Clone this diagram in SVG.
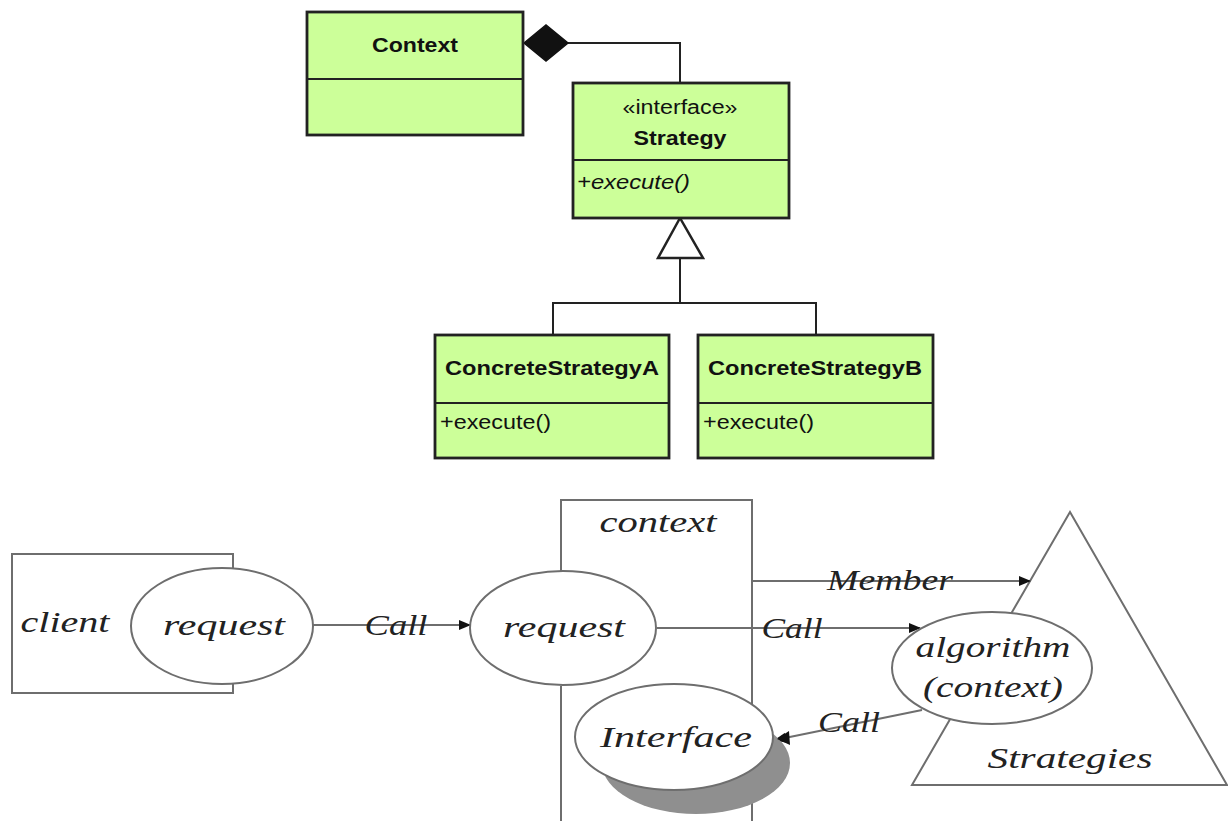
<svg xmlns="http://www.w3.org/2000/svg" width="1228" height="821" viewBox="0 0 1228 821">
  <style>
    .cls { fill: #ccff99; stroke: #222; stroke-width: 2.8; }
    .uml { stroke: #222; stroke-width: 2; fill: none; }
    .b { font-family: "Liberation Sans", Arial, sans-serif; font-weight: bold; font-size: 21px; fill: #111; }
    .r { font-family: "Liberation Sans", Arial, sans-serif; font-size: 20px; fill: #111; }
    .ri { font-family: "Liberation Sans", Arial, sans-serif; font-style: italic; font-size: 20px; fill: #111; }
    .ln { stroke: #6e6e6e; stroke-width: 2; fill: none; }
    .sh { stroke: #6e6e6e; stroke-width: 2; fill: #fff; }
    .t { font-family: "Liberation Serif", "Times New Roman", serif; font-style: italic; font-size: 30px; fill: #222; }
  </style>
  <defs>
    <marker id="arr" markerWidth="12" markerHeight="10" refX="11" refY="5" orient="auto" markerUnits="userSpaceOnUse">
      <path d="M0,0 L12,5 L0,10 Z" fill="#111"/>
    </marker>
  </defs>
  <rect width="1228" height="821" fill="#fff"/>

  <!-- class diagram -->
  <g id="uml-links">
    <path class="uml" d="M568,43 H680 V83"/>
    <polygon points="524,43 546,25 568,43 546,61" fill="#111" stroke="#111" stroke-width="1.5"/>
    <path class="uml" d="M680,258 V303 M553,335 V303 H816 V335"/>
    <polygon points="680,218 658,258 703,258" fill="#fff" stroke="#222" stroke-width="2.5"/>
  </g>

  <g id="Context">
    <rect class="cls" x="307" y="12" width="216" height="123"/>
    <line class="uml" x1="307" y1="79" x2="523" y2="79" stroke-width="2.5"/>
    <text class="b" x="415" y="52" text-anchor="middle" textLength="86" lengthAdjust="spacingAndGlyphs">Context</text>
  </g>

  <g id="Strategy">
    <rect class="cls" x="573" y="83" width="216" height="135"/>
    <line class="uml" x1="573" y1="160" x2="789" y2="160" stroke-width="2.5"/>
    <text class="r" x="680" y="114" text-anchor="middle" textLength="115" lengthAdjust="spacingAndGlyphs">«interface»</text>
    <text class="b" x="680" y="145" text-anchor="middle" textLength="93" lengthAdjust="spacingAndGlyphs">Strategy</text>
    <text class="ri" x="577" y="189" textLength="113" lengthAdjust="spacingAndGlyphs">+execute()</text>
  </g>

  <g id="ConcreteStrategyA">
    <rect class="cls" x="435" y="335" width="234" height="123"/>
    <line class="uml" x1="435" y1="403" x2="669" y2="403" stroke-width="2.5"/>
    <text class="b" x="552" y="375" text-anchor="middle" textLength="214" lengthAdjust="spacingAndGlyphs">ConcreteStrategyA</text>
    <text class="r" x="440" y="429" textLength="111" lengthAdjust="spacingAndGlyphs">+execute()</text>
  </g>

  <g id="ConcreteStrategyB">
    <rect class="cls" x="698" y="335" width="235" height="123"/>
    <line class="uml" x1="698" y1="403" x2="933" y2="403" stroke-width="2.5"/>
    <text class="b" x="815" y="375" text-anchor="middle" textLength="214" lengthAdjust="spacingAndGlyphs">ConcreteStrategyB</text>
    <text class="r" x="703" y="429" textLength="111" lengthAdjust="spacingAndGlyphs">+execute()</text>
  </g>

  <!-- collaboration sketch -->
  <g id="client">
    <path class="ln" d="M233,569 V554 H12 V693 H233 V682"/>
    <text class="t" x="65" y="632" text-anchor="middle" textLength="89" lengthAdjust="spacingAndGlyphs">client</text>
  </g>

  <g id="context">
    <path class="ln" d="M561,572 V500 H752 V821 M561,686 V821"/>
    <text class="t" x="658" y="532" text-anchor="middle" textLength="117" lengthAdjust="spacingAndGlyphs">context</text>
  </g>

  <g id="Strategies">
    <polygon class="ln" points="1070,512 912,785 1227,785" fill="#fff"/>
    <text class="t" x="1070" y="768" text-anchor="middle" textLength="165" lengthAdjust="spacingAndGlyphs">Strategies</text>
  </g>

  <g id="connectors">
    <line class="ln" x1="313" y1="625" x2="470" y2="625" marker-end="url(#arr)"/>
    <line class="ln" x1="752" y1="581" x2="1030" y2="581" marker-end="url(#arr)"/>
    <line class="ln" x1="657" y1="628" x2="920" y2="628" marker-end="url(#arr)"/>
    <line class="ln" x1="922" y1="710" x2="775" y2="740" marker-end="url(#arr)"/>
    <text class="t" x="396" y="635" text-anchor="middle" textLength="63" lengthAdjust="spacingAndGlyphs">Call</text>
    <text class="t" x="890" y="590" text-anchor="middle" textLength="126" lengthAdjust="spacingAndGlyphs">Member</text>
    <text class="t" x="792" y="638" text-anchor="middle" textLength="61" lengthAdjust="spacingAndGlyphs">Call</text>
    <text class="t" x="849" y="732" text-anchor="middle" textLength="62" lengthAdjust="spacingAndGlyphs">Call</text>
  </g>

  <g id="client-request">
    <ellipse class="sh" cx="222" cy="626" rx="91" ry="58"/>
    <text class="t" x="224" y="635" text-anchor="middle" textLength="122" lengthAdjust="spacingAndGlyphs">request</text>
  </g>

  <g id="context-request">
    <ellipse class="sh" cx="563" cy="628" rx="93" ry="57"/>
    <text class="t" x="564" y="637" text-anchor="middle" textLength="122" lengthAdjust="spacingAndGlyphs">request</text>
  </g>

  <g id="algorithm">
    <ellipse class="sh" cx="992" cy="668" rx="100" ry="56"/>
    <text class="t" x="993" y="657" text-anchor="middle" textLength="155" lengthAdjust="spacingAndGlyphs">algorithm</text>
    <text class="t" x="993" y="697" text-anchor="middle" textLength="140" lengthAdjust="spacingAndGlyphs">(context)</text>
  </g>

  <g id="Interface">
    <ellipse cx="696" cy="763" rx="94" ry="51" fill="#8f8f8f"/>
    <ellipse class="sh" cx="674" cy="737" rx="99" ry="53"/>
    <text class="t" x="676" y="747" text-anchor="middle" textLength="152" lengthAdjust="spacingAndGlyphs">Interface</text>
  </g>

  <!-- arrowhead into Interface drawn over its shadow -->
  <polygon points="777,739 789,731 790,745" fill="#111"/>
</svg>
